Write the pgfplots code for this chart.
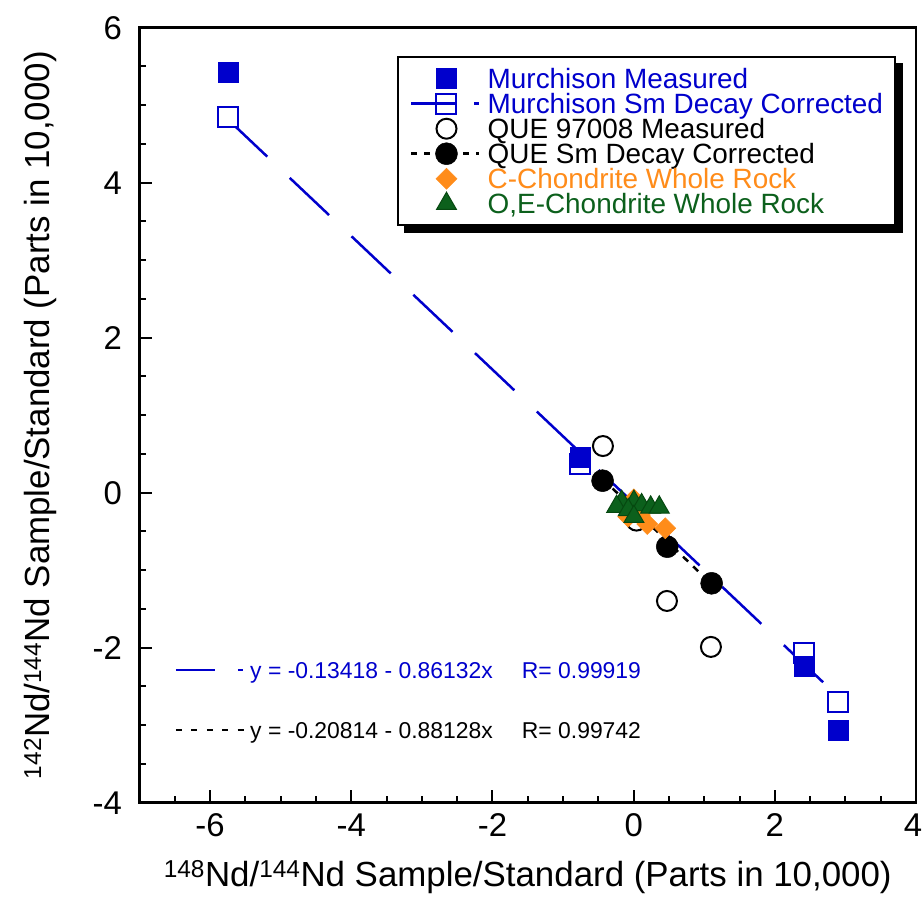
\documentclass[border=0pt]{standalone}
\usepackage{fontspec}
\setmainfont{Liberation Sans}
\usepackage{pgfplots}
\pgfplotsset{compat=1.18}
\definecolor{mblue}{RGB}{0,0,204}
\definecolor{corange}{RGB}{255,140,26}
\definecolor{ogreen}{RGB}{12,96,28}
\definecolor{ogreendk}{RGB}{6,72,16}
\newcommand{\fs}[1]{\fontsize{#1}{#1}\selectfont}
\begin{document}
\begin{tikzpicture}
\begin{axis}[
  scale only axis, width=776.5bp, height=775bp,
  xmin=-7, xmax=4, ymin=-4, ymax=6,
  xtick={-6,-4,...,4}, ytick={-4,-2,...,6},
  xticklabels={-6,-4,-2,0,2,{\hspace*{-6bp}4}},
  minor xtick={-7,-6.5,...,4}, minor ytick={-4,-3.5,...,6},
  xtick pos=bottom, ytick pos=left,
  tick align=inside,
  axis line style={line width=2.5bp},
  every tick/.style={black, line width=2bp},
  major tick length=12.5bp, minor tick length=6.5bp,
  /pgf/number format/assume math mode=true,
  ticklabel style={font=\fs{33}},
  xticklabel style={anchor=base, yshift=-34bp, inner sep=0pt},
  yticklabel style={anchor=east, xshift=-17.5bp, inner sep=0pt},
  xlabel={\textsuperscript{148}Nd/\textsuperscript{144}Nd Sample/Standard (Parts in 10,000)},
  ylabel={\textsuperscript{142}Nd/\textsuperscript{144}Nd Sample/Standard (Parts in 10,000)},
  label style={font=\fs{35}},
  xlabel style={at={([yshift=-83.3bp]axis description cs:0.5,0)}, anchor=base, inner sep=0pt},
  ylabel style={at={([xshift=-89.5bp]axis description cs:0,0.5)}, anchor=base, inner sep=0pt},
  legend cell align=left,
  legend style={name=leg, at={(0.3316,0.9635)}, anchor=north west, draw=black, line width=2.5bp, fill=white,
    inner xsep=12bp, inner ysep=9bp, column sep=7bp, row sep=0pt,
    font=\fs{28},
    nodes={inner xsep=0pt, inner ysep=0pt, text height=22.2bp, text depth=2.8bp}},
]
% legend images
\addlegendimage{legend image code/.code={\path (0bp,0bp) (68bp,0bp);
  \draw[mblue, fill=mblue, line width=0.5bp, mark=square*, mark size=10bp] plot[only marks] coordinates {(35bp,0bp)};}}
\addlegendentry{\textcolor{mblue}{Murchison Measured}}
\addlegendimage{legend image code/.code={\path (0bp,0bp) (68bp,0bp);
  \draw[mblue, line width=2bp, mark=square, mark size=10bp] plot[only marks] coordinates {(35bp,0bp)};
  \draw[mblue, line width=2.5bp] (0bp,0bp) -- (45bp,0bp);
  \draw[mblue, line width=2.5bp] (63bp,0bp) -- (68bp,0bp);}}
\addlegendentry{\textcolor{mblue}{Murchison Sm Decay Corrected}}
\addlegendimage{legend image code/.code={\path (0bp,0bp) (68bp,0bp);
  \draw[black, fill=white, line width=2bp, mark=*, mark size=10bp] plot[only marks] coordinates {(35bp,0bp)};}}
\addlegendentry{QUE 97008 Measured}
\addlegendimage{legend image code/.code={\path (0bp,0bp) (68bp,0bp);
  \draw[black, line width=2.5bp, dash pattern=on 6bp off 7bp] (0bp,0bp) -- (68bp,0bp);
  \draw[black, fill=black, line width=0.5bp, mark=*, mark size=11bp] plot[only marks] coordinates {(35bp,0bp)};}}
\addlegendentry{QUE Sm Decay Corrected}
\addlegendimage{legend image code/.code={\path (0bp,0bp) (68bp,0bp);
  \draw[corange, fill=corange, line width=0.5bp, mark=square*, mark size=7.4bp, mark options={rotate=45}] plot[only marks] coordinates {(35bp,0bp)};}}
\addlegendentry{\textcolor{corange}{C-Chondrite Whole Rock}}
\addlegendimage{legend image code/.code={\path (0bp,0bp) (68bp,0bp);
  \draw[ogreendk, fill=ogreen, line width=1bp, mark=triangle*, mark size=11.5bp] plot[only marks] coordinates {(35bp,0bp)};}}
\addlegendentry{\textcolor{ogreen}{O,E-Chondrite Whole Rock}}

% Murchison fit line
\addplot[mblue, line width=2.5bp, dash pattern=on 54bp off 31bp, forget plot]
  coordinates {(-5.746,4.815) (2.894,-2.627)};
% QUE fit line
\addplot[black, line width=2.5bp, dash pattern=on 7bp off 7bp, forget plot]
  coordinates {(-0.44,0.1796) (1.105,-1.182)};
% Murchison Sm decay corrected (open squares)
\addplot[only marks, mark=square*, mark size=10bp, mark options={draw=mblue, fill=white, line width=2bp}, forget plot]
  coordinates {(-5.746,4.848) (-0.76,0.37) (2.42,-2.07) (2.894,-2.70)};
% Murchison measured (filled squares)
\addplot[only marks, mark=square*, mark size=10bp, mark options={draw=mblue, fill=mblue, line width=0.5bp}, forget plot]
  coordinates {(-5.746,5.43) (-0.76,0.46) (2.42,-2.245) (2.894,-3.07)};
% QUE measured (open circles)
\addplot[only marks, mark=*, mark size=10bp, mark options={draw=black, fill=white, line width=2bp}, forget plot]
  coordinates {(-0.435,0.602) (0.472,-1.397) (1.095,-1.99) (0.04,-0.36)};
% QUE corrected (filled circles)
\addplot[only marks, mark=*, mark size=11bp, mark options={draw=black, fill=black, line width=0.5bp}, forget plot]
  coordinates {(-0.44,0.155) (0.476,-0.697) (1.105,-1.169)};
% C-chondrites (diamonds)
\addplot[only marks, mark=square*, mark size=7.4bp, mark options={draw=corange, fill=corange, line width=0.5bp, rotate=45}, forget plot]
  coordinates {(0.004,-0.085) (0.089,-0.288) (-0.077,-0.31) (0.193,-0.404) (0.448,-0.459)};
% O,E-chondrites (triangles)
\addplot[only marks, mark=triangle*, mark size=11.5bp, mark options={draw=ogreendk, fill=ogreen, line width=1bp}, forget plot]
  coordinates {(-0.170,-0.116) (0.004,-0.116) (0.113,-0.159) (0.241,-0.189) (0.363,-0.189) (-0.241,-0.181) (-0.077,-0.223) (0.004,-0.31)};

% fit equations
\draw[mblue, line width=2bp] (axis cs:-6.483,-2.288) -- (axis cs:-5.930,-2.288);
\draw[mblue, line width=2bp] (axis cs:-5.605,-2.288) -- (axis cs:-5.534,-2.288);
\node[anchor=base west, inner sep=0pt, font=\fs{23}, text=mblue] at (axis cs:-5.4346,-2.394) {y = -0.13418 - 0.86132x};
\node[anchor=base west, inner sep=0pt, font=\fs{23}, text=mblue] at (axis cs:-1.586,-2.394) {R= 0.99919};
\draw[black, line width=2bp, dash pattern=on 6bp off 9.4bp] (axis cs:-6.483,-3.062) -- (axis cs:-5.525,-3.062);
\node[anchor=base west, inner sep=0pt, font=\fs{23}, text=black] at (axis cs:-5.4346,-3.169) {y = -0.20814 - 0.88128x};
\node[anchor=base west, inner sep=0pt, font=\fs{23}, text=black] at (axis cs:-1.586,-3.169) {R= 0.99742};
\end{axis}
% legend shadow
\fill[black] ([shift={(0bp,-7bp)}]leg.north east) rectangle ([shift={(7bp,-7bp)}]leg.south east);
\fill[black] ([shift={(7bp,0bp)}]leg.south west) rectangle ([shift={(7bp,-7bp)}]leg.south east);
\pgfresetboundingbox
\path ([shift={(-139.5bp,-106.3bp)}]current axis.south west) rectangle ([shift={(7bp,27.7bp)}]current axis.north east);
\end{tikzpicture}
\end{document}
